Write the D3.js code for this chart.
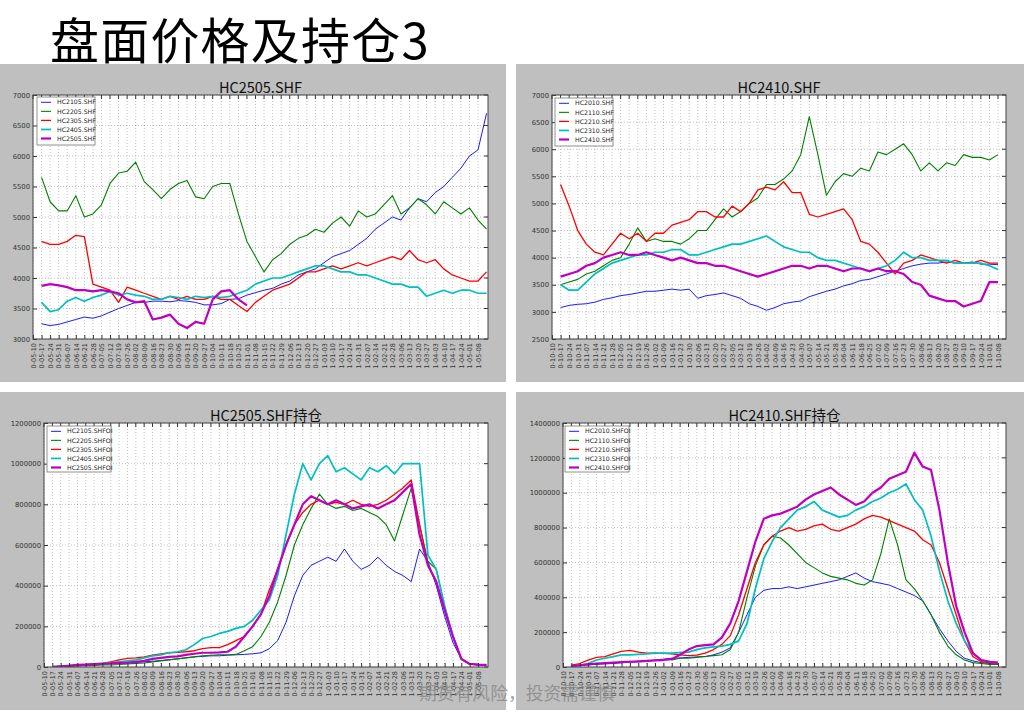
<!DOCTYPE html>
<html><head><meta charset="utf-8">
<script src="https://cdn.jsdelivr.net/npm/d3@7"></script>
<style>body{margin:0;background:#fff}svg{display:block}</style>
</head><body><svg id="c" width="1034" height="718"></svg>
<script>
// ---------- tick labels ----------
const datesA = ["0-05-10","0-05-17","0-05-24","0-05-31","0-06-07","0-06-14","0-06-21","0-06-28","0-07-05","0-07-12","0-07-19","0-07-26","0-08-02","0-08-09","0-08-16","0-08-23","0-08-30","0-09-06","0-09-13","0-09-20","0-09-27","0-10-04","0-10-11","0-10-18","0-10-25","0-11-01","0-11-08","0-11-15","0-11-22","0-11-29","0-12-06","0-12-13","0-12-20","0-12-27","1-01-03","1-01-10","1-01-17","1-01-24","1-01-31","1-02-07","1-02-14","1-02-21","1-02-28","1-03-06","1-03-13","1-03-20","1-03-27","1-04-03","1-04-10","1-04-17","1-04-24","1-05-01","1-05-08"];
const datesB = ["0-10-10","0-10-17","0-10-24","0-10-31","0-11-07","0-11-14","0-11-21","0-11-28","0-12-05","0-12-12","0-12-19","0-12-26","1-01-02","1-01-09","1-01-16","1-01-23","1-01-30","1-02-06","1-02-13","1-02-20","1-02-27","1-03-05","1-03-12","1-03-19","1-03-26","1-04-02","1-04-09","1-04-16","1-04-23","1-04-30","1-05-07","1-05-14","1-05-21","1-05-28","1-06-04","1-06-11","1-06-18","1-06-25","1-07-02","1-07-09","1-07-16","1-07-23","1-07-30","1-08-06","1-08-13","1-08-20","1-08-27","1-09-03","1-09-10","1-09-17","1-09-24","1-10-01","1-10-08"];
const priceTicksA = [3000,3500,4000,4500,5000,5500,6000,6500,7000];
const priceTicksB = [2500,3000,3500,4000,4500,5000,5500,6000,6500,7000];
const oiTicksA = [0,200000,400000,600000,800000,1000000,1200000];
const oiTicksB = [0,200000,400000,600000,800000,1000000,1200000,1400000];

// ---------- panel 1: HC2505.SHF prices (weekly, index = tick) ----------
const namesP1 = ["HC2105.SHF","HC2205.SHF","HC2305.SHF","HC2405.SHF","HC2505.SHF"];
const p1_HC2105 = [null,3250,3220,3240,3280,3320,3360,3340,3380,3440,3500,3550,3600,3600,3620,3620,3610,3630,3620,3600,3560,3560,3580,3650,3660,3720,3760,3800,3830,3900,3950,4050,4100,4150,4250,4350,4400,4450,4550,4650,4800,4900,5000,4950,5150,5300,5250,5400,5500,5650,5800,6000,6100,6700];
const p1_HC2205 = [null,5650,5250,5100,5100,5350,5000,5050,5200,5550,5720,5750,5900,5580,5450,5300,5450,5550,5600,5330,5300,5500,5550,5550,5050,4600,4350,4100,4300,4400,4550,4650,4700,4800,4750,4900,5000,4850,5100,5000,5050,5200,5350,5050,5150,5300,5200,5050,5250,5150,5050,5150,4950,4800];
const p1_HC2305 = [null,4600,4550,4550,4600,4700,4680,3900,3850,3800,3600,3850,3800,3750,3700,3650,3700,3650,3700,3650,3650,3700,3650,3650,3550,3450,3600,3700,3800,3850,3900,4000,4100,4100,4150,4200,4150,4200,4250,4200,4250,4300,4350,4300,4450,4300,4250,4300,4150,4050,4000,3950,3950,4100];
const p1_HC2405 = [null,3600,3450,3480,3620,3680,3620,3680,3720,3780,3720,3750,3720,3700,3650,3650,3700,3680,3650,3700,3680,3700,3680,3700,3750,3800,3900,3950,4000,4000,4050,4100,4150,4200,4200,4150,4100,4100,4050,4050,4000,3950,3900,3900,3850,3850,3700,3750,3800,3750,3800,3800,3750,3750];
const p1_HC2505 = [null,3870,3900,3880,3850,3800,3800,3780,3800,3780,3750,3650,3600,3620,3320,3350,3400,3250,3180,3280,3250,3650,3780,3800,3650,3550];

// ---------- panel 2: HC2410.SHF prices ----------
const namesP2 = ["HC2010.SHF","HC2110.SHF","HC2210.SHF","HC2310.SHF","HC2410.SHF"];
const p2_HC2010 = [null,3080,3120,3140,3150,3180,3230,3260,3300,3320,3350,3380,3380,3400,3420,3400,3420,3250,3300,3320,3350,3300,3250,3150,3100,3030,3080,3150,3180,3200,3280,3330,3380,3420,3480,3520,3580,3600,3650,3700,3750,3800,3850,3880,3900,3900,3920,3900,3900,3920,3880,3880,3870];
const p2_HC2110 = [null,3500,3550,3600,3700,3750,3850,3950,4000,4250,4550,4300,4350,4300,4300,4250,4350,4500,4500,4700,4900,4750,4850,5000,5100,5350,5350,5450,5600,5900,6600,5900,5150,5400,5550,5500,5650,5600,5950,5900,6000,6100,5900,5600,5750,5600,5750,5700,5900,5850,5850,5800,5900];
const p2_HC2210 = [null,5350,4950,4500,4250,4100,4050,4250,4450,4350,4450,4300,4450,4450,4600,4650,4700,4850,4850,4750,4750,4950,4850,5000,5250,5300,5250,5400,5200,5200,4800,4750,4800,4850,4900,4700,4300,4250,4100,3900,3700,3900,3950,4050,4000,3950,3900,3950,3900,3900,3950,3900,3900];
const p2_HC2310 = [null,3500,3400,3400,3550,3700,3800,3900,3950,4000,4050,4050,4100,4100,4150,4150,4050,4050,4100,4150,4200,4250,4250,4300,4350,4400,4300,4200,4150,4100,4100,4000,3950,3950,3900,3850,3800,3750,3800,3850,3950,4100,4000,4000,3950,3950,3950,3900,3900,3900,3900,3850,3780];
const p2_HC2410 = [null,3650,3700,3750,3850,3900,4000,4050,4100,4050,4050,4100,4050,4000,3950,4000,3950,3900,3900,3850,3850,3800,3750,3700,3650,3700,3750,3800,3850,3850,3800,3850,3850,3800,3750,3800,3800,3750,3800,3750,3750,3700,3550,3500,3300,3250,3200,3200,3100,3150,3200,3550,3550];

// ---------- panel 3: HC2505.SHF open interest (thousand lots) ----------
const oiUnit = 1000;
const namesP3 = ["HC2105.SHFOI","HC2205.SHFOI","HC2305.SHFOI","HC2405.SHFOI","HC2505.SHFOI"];
const p3_HC2105 = [null,0,3,5,8,10,12,14,16,18,20,22,25,28,32,36,40,45,50,52,55,55,58,60,62,65,70,90,130,220,350,450,500,520,540,520,580,520,480,500,540,500,470,450,420,580,520,400,250,120,40,15,10,8];
const p3_HC2205 = [null,0,2,3,5,6,8,10,10,12,15,18,20,25,30,35,40,45,50,55,58,60,60,62,80,100,150,220,320,450,600,700,780,850,800,780,790,770,780,760,740,700,620,750,880,700,520,480,300,150,40,15,10,8];
const p3_HC2305 = [null,0,3,5,8,10,12,18,25,35,42,45,50,58,65,70,72,75,80,90,95,95,110,130,150,200,260,380,480,600,700,760,800,820,800,810,800,820,800,790,800,820,850,880,920,700,500,420,280,150,40,15,12,10];
const p3_HC2405 = [null,2,5,8,10,12,15,18,20,25,30,35,45,55,60,70,75,85,110,140,150,165,175,190,200,230,280,330,450,650,850,1000,920,1000,1040,960,980,950,920,980,960,990,950,1000,1000,1000,550,480,300,150,40,15,12,10];
const p3_HC2505 = [null,0,3,6,10,12,14,16,18,20,22,25,30,40,45,50,52,60,65,70,70,72,75,100,150,200,260,350,480,600,700,800,840,820,800,820,800,780,790,800,780,800,820,860,900,650,500,420,280,150,40,15,12,10];

// ---------- panel 4: HC2410.SHF open interest (thousand lots) ----------
const namesP4 = ["HC2010.SHFOI","HC2110.SHFOI","HC2210.SHFOI","HC2310.SHFOI","HC2410.SHFOI"];
const p4_HC2010 = [null,5,10,12,15,18,20,25,28,30,32,40,45,50,52,55,58,60,70,85,110,200,300,400,440,450,450,460,450,460,470,480,490,500,520,540,510,490,480,470,450,430,410,380,300,220,150,90,50,35,25,20,15];
const p4_HC2110 = [null,null,null,null,null,null,null,null,null,null,null,null,null,40,50,50,55,60,65,70,100,200,400,580,700,750,740,700,650,600,570,540,520,510,500,480,470,500,650,850,700,500,450,380,300,200,120,70,40,25,20,15,15];
const p4_HC2210 = [null,10,20,40,55,60,75,90,95,85,80,80,78,75,70,65,68,80,100,130,180,300,450,600,700,750,780,800,780,790,810,820,790,780,800,820,850,870,860,840,820,800,780,730,700,600,450,300,150,60,30,25,20];
const p4_HC2310 = [null,5,10,20,40,50,60,70,70,72,75,80,80,80,82,85,100,110,115,120,130,150,250,450,620,720,800,850,900,920,950,900,880,860,870,900,920,950,970,1000,1020,1050,960,900,750,550,380,250,150,80,40,30,25];
const p4_HC2410 = [null,5,10,15,20,22,25,28,30,32,35,38,40,45,70,100,120,125,130,170,250,380,550,720,850,870,880,900,920,960,990,1010,1030,990,960,930,950,1000,1030,1080,1100,1120,1230,1150,1130,900,600,350,200,80,40,30,25];

// ---------- styling ----------
const colors = ["#0000ff","#008000","#ff0000","#00bfbf","#bf00bf"];
const widths = [0.9,1.1,1.3,1.7,2.2];
const svg = d3.select("#c");
const FONT = "'DejaVu Sans', sans-serif";
const CJK = "'Noto Sans CJK SC', sans-serif";

svg.append("text").attr("x", 50).attr("y", 59)
  .attr("font-family", CJK).attr("font-size", 49).attr("letter-spacing", 1.2).attr("fill", "#000")
  .text("盘面价格及持仓3");

const panels = [
  {title:"HC2505.SHF", names:namesP1, series:[p1_HC2105,p1_HC2205,p1_HC2305,p1_HC2405,p1_HC2505], unit:1,
   dates:datesA, yTicks:priceTicksA, box:[0,64,506,318], plot:[33,95,488,339], t0:33, t1:478, leg:[37,97,58,48]},
  {title:"HC2410.SHF", names:namesP2, series:[p2_HC2010,p2_HC2110,p2_HC2210,p2_HC2310,p2_HC2410], unit:1,
   dates:datesB, yTicks:priceTicksB, box:[516,64,508,318], plot:[552,95,1006,339], t0:552, t1:998, leg:[555,98,58,48]},
  {title:"HC2505.SHF持仓", names:namesP3, series:[p3_HC2105,p3_HC2205,p3_HC2305,p3_HC2405,p3_HC2505], unit:oiUnit,
   dates:datesA, yTicks:oiTicksA, box:[0,392,506,318], plot:[44,423,488,667], t0:44, t1:478, leg:[47,426,64,46]},
  {title:"HC2410.SHF持仓", names:namesP4, series:[p4_HC2010,p4_HC2110,p4_HC2210,p4_HC2310,p4_HC2410], unit:oiUnit,
   dates:datesB, yTicks:oiTicksB, box:[516,392,508,318], plot:[563,423,1006,667], t0:563, t1:998, leg:[565,426,64,46]}
];

panels.forEach((p, pi) => {
  const g = svg.append("g");
  const [bx,by,bw,bh] = p.box;
  const [L,T,R,B] = p.plot;
  g.append("rect").attr("x",bx).attr("y",by).attr("width",bw).attr("height",bh).attr("fill","#bfbfbf");
  g.append("rect").attr("x",L).attr("y",T).attr("width",R-L).attr("height",B-T).attr("fill","#fff");

  const x = d3.scaleLinear().domain([0, p.dates.length-1]).range([p.t0, p.t1]);
  const y = d3.scaleLinear().domain([p.yTicks[0], p.yTicks[p.yTicks.length-1]]).range([B, T]);

  const grid = g.append("g").attr("stroke","#9a9a9a").attr("stroke-width",0.6).attr("stroke-dasharray","1,2");
  p.dates.forEach((d,i) => grid.append("line").attr("x1",x(i)).attr("x2",x(i)).attr("y1",T).attr("y2",B));
  p.yTicks.forEach(v => grid.append("line").attr("x1",L).attr("x2",R).attr("y1",y(v)).attr("y2",y(v)));

  const clipId = "clip"+pi;
  g.append("clipPath").attr("id",clipId).append("rect").attr("x",L).attr("y",T).attr("width",R-L).attr("height",B-T);
  const lg = g.append("g").attr("clip-path",`url(#${clipId})`);
  p.series.forEach((s, si) => {
    const line = d3.line().defined(d => d != null).x((d,i) => x(i)).y(d => y(d * p.unit));
    lg.append("path").attr("d", line(s)).attr("fill","none")
      .attr("stroke", colors[si]).attr("stroke-width", widths[si]).attr("stroke-linejoin","round");
  });

  const ay = g.append("g").attr("transform",`translate(${L},0)`)
    .call(d3.axisLeft(y).tickValues(p.yTicks).tickSizeInner(-4).tickSizeOuter(0).tickPadding(3).tickFormat(d3.format("d")));
  ay.select(".domain").remove();
  ay.selectAll("line").attr("stroke","#333");
  ay.selectAll("text").attr("font-family",FONT).attr("font-size",6.8).attr("fill","#333");
  const ax = g.append("g").attr("transform",`translate(0,${B})`)
    .call(d3.axisBottom(x).tickValues(d3.range(p.dates.length)).tickSizeInner(-4).tickSizeOuter(0).tickFormat(i => p.dates[i]));
  ax.select(".domain").remove();
  ax.selectAll("line").attr("stroke","#333");
  ax.selectAll("text").attr("font-family",FONT).attr("font-size",6.5).attr("fill","#333")
    .attr("transform","rotate(-90)").attr("text-anchor","end").attr("x",-4).attr("y",0).attr("dy","0.35em");
  p.dates.forEach((d,i) => g.append("line").attr("x1",x(i)).attr("x2",x(i)).attr("y1",T).attr("y2",T+4).attr("stroke","#333"));
  p.yTicks.forEach(v => g.append("line").attr("x1",R-4).attr("x2",R).attr("y1",y(v)).attr("y2",y(v)).attr("stroke","#333"));

  g.append("rect").attr("x",L).attr("y",T).attr("width",R-L).attr("height",B-T)
    .attr("fill","none").attr("stroke","#444").attr("stroke-width",1);

  g.append("text").attr("x",(L+R)/2).attr("y",T-2.5).attr("text-anchor","middle")
    .attr("font-family",CJK).attr("font-size",14.5).attr("fill","#111").text(p.title);

  const [lx,ly,lw,lh] = p.leg;
  const leg = g.append("g");
  leg.append("rect").attr("x",lx).attr("y",ly).attr("width",lw).attr("height",lh)
    .attr("fill","#fff").attr("stroke","#777").attr("stroke-width",0.8);
  p.names.forEach((n, ni) => {
    const yy = ly + 5.3 + ni*9.05;
    leg.append("line").attr("x1",lx+4).attr("x2",lx+14).attr("y1",yy).attr("y2",yy)
      .attr("stroke",colors[ni]).attr("stroke-width",widths[ni]);
    leg.append("text").attr("x",lx+20).attr("y",yy).attr("dy","0.35em")
      .attr("font-family",FONT).attr("font-size",6.2).attr("fill","#222").text(n);
  });
});

svg.append("text").attr("x",419).attr("y",700)
  .attr("font-family",CJK).attr("font-size",17.8).attr("fill","#8a8a8a").attr("fill-opacity",0.85)
  .text("期货有风险，投资需谨慎");
</script>
</body></html>
